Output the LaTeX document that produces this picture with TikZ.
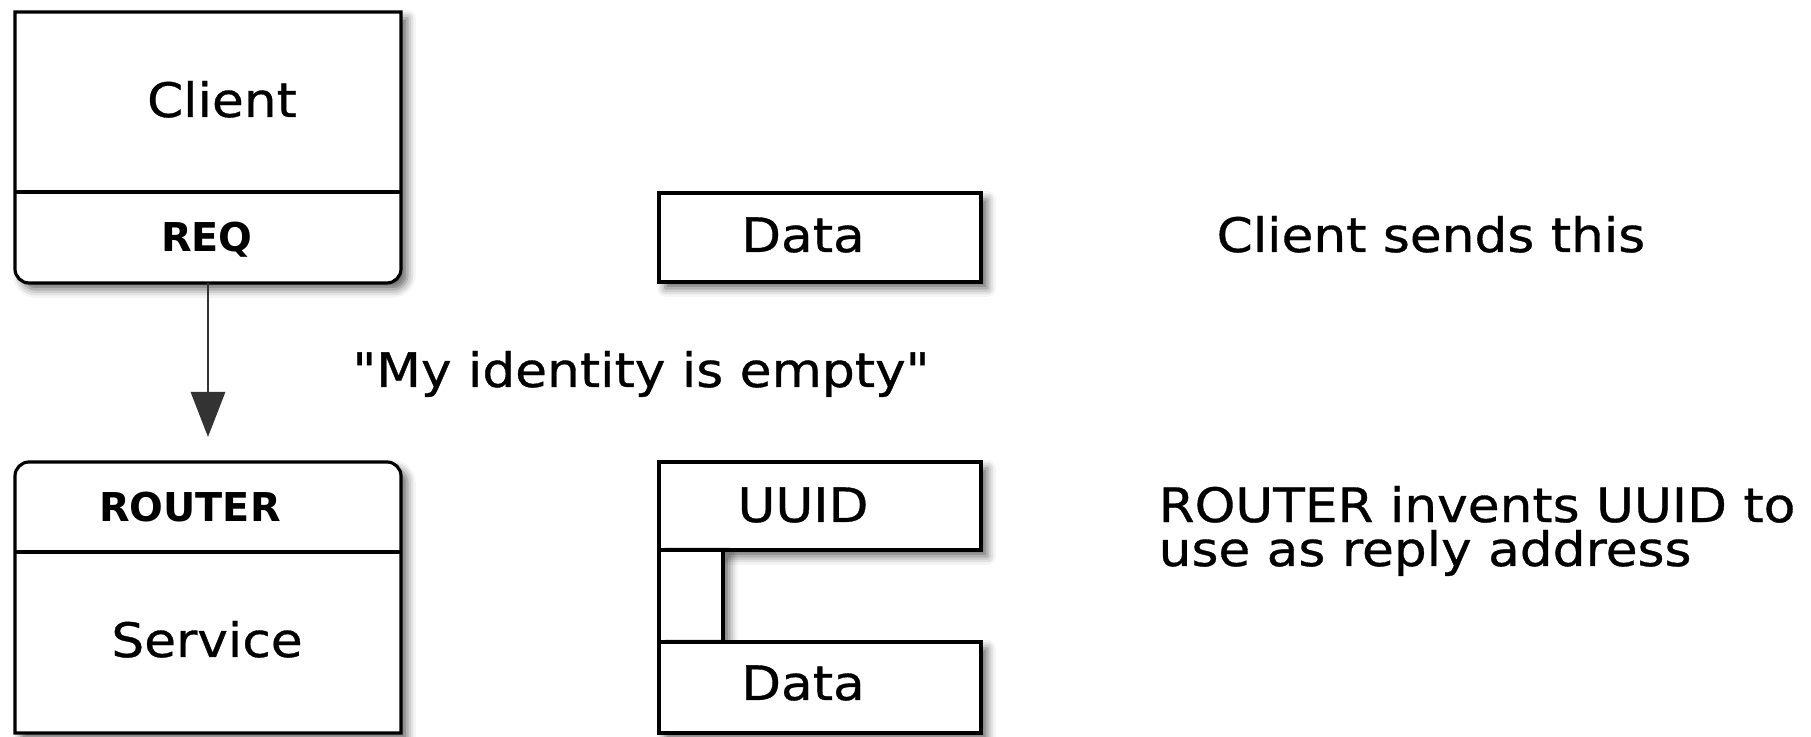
\documentclass[tikz,border=0pt]{standalone}
\usepackage{fontspec}
\setmainfont{DejaVu Sans}
\newfontfamily\wide[FakeStretch=1.09,FakeBold=0.7]{DejaVu Sans}
\usetikzlibrary{arrows.meta,shadows.blur}

\tikzset{
  frame/.style={draw, line width=0.9pt, fill=white,
    blur shadow={shadow xshift=1.8pt, shadow yshift=-1.8pt,
      shadow blur radius=2.4pt, shadow opacity=60}},
  txt/.style={font=\wide\fontsize{13.5}{12.5}\selectfont, inner sep=0pt, anchor=base},
  note/.style={txt, anchor=base west, align=left},
  tag/.style={font=\bfseries\fontsize{11.3}{13}\selectfont, inner sep=0pt, anchor=base},
  link/.style={line width=0.8pt, draw=black!80, -{Triangle[width=9.7pt,length=12.8pt]}}
}

\begin{document}
\begin{tikzpicture}[x=0.01cm,y=-0.01cm]
  \useasboundingbox (0,0) rectangle (1811,737);

  % sockets
  \draw[frame] (15,192) -- (15,12) -- (401,12) -- (401,192) [rounded corners=4pt]
    -- (401,283) -- (15,283) -- cycle;
  \draw[line width=0.9pt] (15,192) -- (401,192);
  \draw[frame] (15,552) [rounded corners=4pt] -- (15,462) -- (401,462) -- (401,552)
    [sharp corners] -- (401,733) -- (15,733) -- cycle;
  \draw[line width=0.9pt] (15,552) -- (401,552);

  % frames
  \draw[frame] (659,193) rectangle (981,282);
  \draw[frame] (659,462) rectangle (981,550);
  \draw[frame] (659,550) rectangle (723,642);
  \draw[frame] (659,642) rectangle (981,733);

  \node[txt] (client) at (222,117) {Client};
  \node[tag] (req) at (207,252) {REQ};
  \node[tag] (router) at (190,522) {ROUTER};
  \node[txt] (service) at (207,657) {Service};
  \foreach \y/\t in {252/Data,522/UUID,700/Data}{
    \node[txt] (part\y) at (803,\y) {\t};
  }

  \node[txt] (empty) at (641,387) {"My identity is empty"};
  \node[note] (sends) at (1216,252) {Client sends this};
  \node[note] (invents) at (1158,566) {ROUTER invents UUID to\\use as reply address};

  \coordinate (reqfoot) at (208,283);
  \coordinate (routertop) at (208,437);
  \draw[link] (reqfoot) -- (routertop);
\end{tikzpicture}
\end{document}
